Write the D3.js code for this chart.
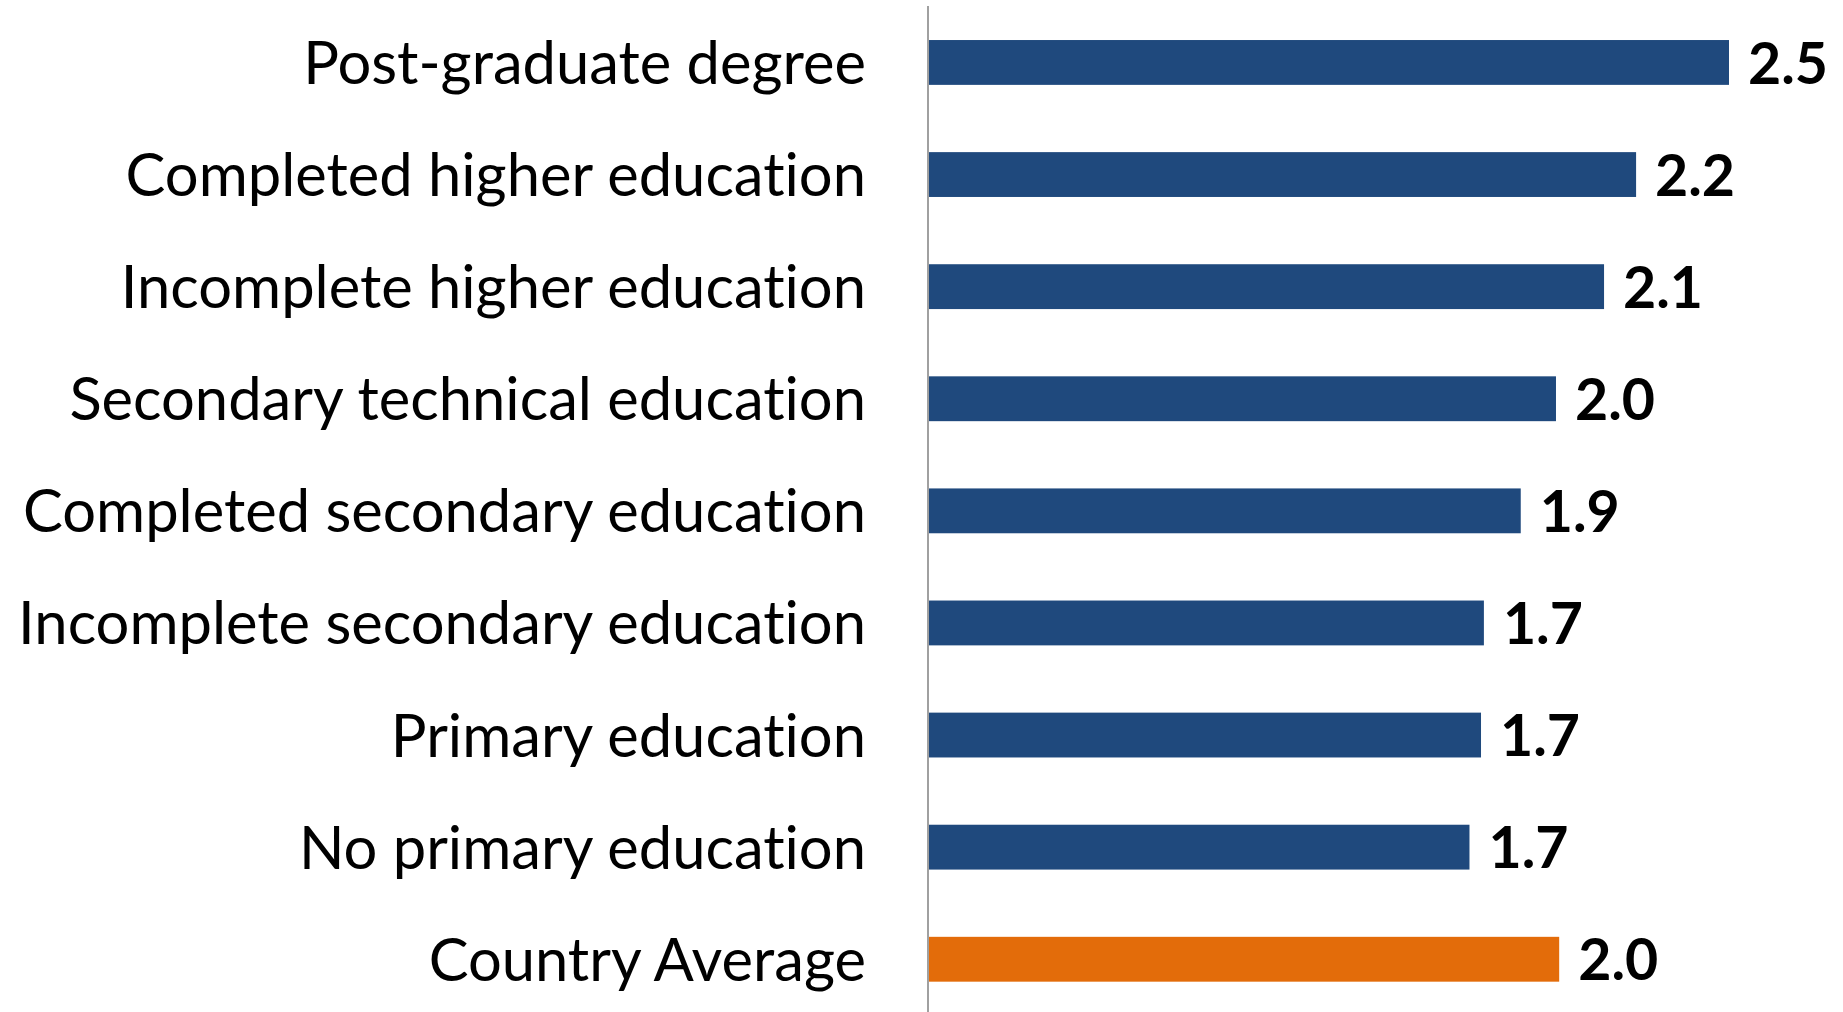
<!DOCTYPE html>
<html>
<head>
<meta charset="utf-8">
<script src="https://cdn.jsdelivr.net/npm/d3@7"></script>
<style>
html,body{margin:0;padding:0;background:#fff;}
svg{display:block;}
text{font-variant-ligatures:none;font-feature-settings:"liga" 0,"clig" 0;}
</style>
</head>
<body>
<svg id="chart" width="1843" height="1012"></svg>
<script>
const categories = [
  "Post-graduate degree",
  "Completed higher education",
  "Incomplete higher education",
  "Secondary technical education",
  "Completed secondary education",
  "Incomplete secondary education",
  "Primary education",
  "No primary education",
  "Country Average"
];
const values = [2.50, 2.21, 2.11, 1.96, 1.85, 1.735, 1.726, 1.69, 1.97];
const highlight = ["Country Average"];

const W = 1843, H = 1012;
const svg = d3.select("#chart");

const x = d3.scaleLinear().domain([0, 2.5]).range([928, 1729]);
const y = d3.scaleBand().domain(categories).range([6.4, 1015.3])
  .paddingInner(0.6).paddingOuter(0.3);

const data = categories.map((c, i) => ({cat: c, val: values[i]}));

// bars
svg.append("g").selectAll("rect").data(data).join("rect")
  .attr("x", x(0))
  .attr("y", d => y(d.cat))
  .attr("width", d => x(d.val) - x(0))
  .attr("height", y.bandwidth())
  .attr("fill", d => highlight.includes(d.cat) ? "#e36c0a" : "#1f497d");

// axis line
const axis = d3.axisLeft(y).tickSize(0).tickFormat("");
const ag = svg.append("g").attr("transform", `translate(${x(0)},0)`).call(axis);
ag.select(".domain").remove();
svg.append("line")
  .attr("x1", x(0)).attr("x2", x(0))
  .attr("y1", 6).attr("y2", H)
  .attr("stroke", "#a0a0a0").attr("stroke-width", 2);

// category labels - fit font size to longest label width
const labelFont = "Lato, 'Open Sans', sans-serif";
const probe = svg.append("text").attr("font-family", labelFont).attr("font-size", 100)
  .text("Incomplete secondary education");
const w100 = probe.node().getComputedTextLength();
probe.remove();
const labelSize = 100 * 848 / w100;

svg.append("g").selectAll("text").data(data).join("text")
  .attr("x", 866)
  .attr("y", d => y(d.cat) + y.bandwidth() / 2 + labelSize * 0.36)
  .attr("text-anchor", "end")
  .attr("font-family", labelFont)
  .attr("font-size", labelSize)
  .attr("fill", "#000")
  .text(d => d.cat);

// value labels
const fmt = d3.format(".1f");
const probe2 = svg.append("text").attr("font-family", labelFont).attr("font-weight", 700)
  .attr("font-size", 100).text("2.5");
const w2 = probe2.node().getComputedTextLength();
probe2.remove();
const valSize = 100 * 80 / w2;

svg.append("g").selectAll("text").data(data).join("text")
  .attr("x", d => x(d.val) + 19)
  .attr("y", d => y(d.cat) + y.bandwidth() / 2 + valSize * 0.37)
  .attr("font-family", labelFont)
  .attr("font-weight", 700)
  .attr("font-size", valSize)
  .attr("fill", "#000")
  .text(d => fmt(d.val));
</script>
</body>
</html>
